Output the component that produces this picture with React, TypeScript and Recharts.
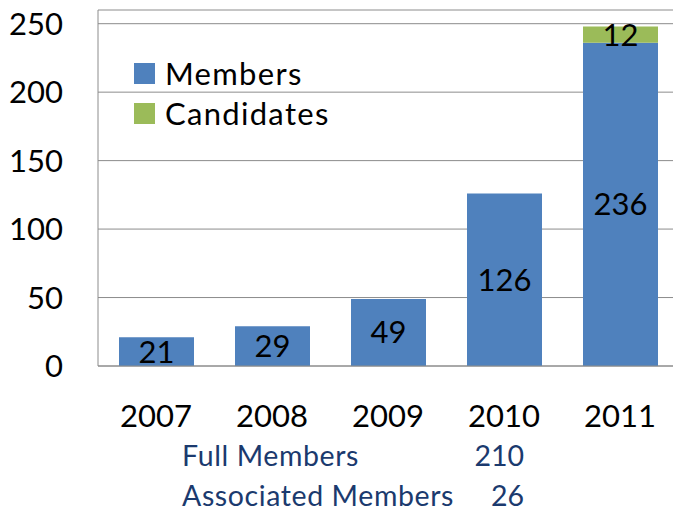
import React from "react";
import { BarChart, Bar, XAxis, YAxis, CartesianGrid, Legend, LabelList } from "recharts";

const years = ["2007", "2008", "2009", "2010", "2011"];
const members = [21, 29, 49, 126, 236];
const candidates = [0, 0, 0, 0, 12];
const yTicks = [0, 50, 100, 150, 200, 250];
const seriesNames = ["Members", "Candidates"];
const footerLabels = ["Full Members", "Associated Members"];
const footerValues = ["210", "26"];

const data = years.map((y, i) => ({ year: y, Members: members[i], Candidates: candidates[i] }));

const FONT = "Lato, 'Open Sans', sans-serif";
const BLUE = "#4F81BD";
const GREEN = "#9BBB59";
const GRID = "#8c8c8c";

const renderLegend = (props: any) => {
  const payload = props.payload || [];
  const ordered = seriesNames
    .map((n) => payload.find((p: any) => p.value === n))
    .filter(Boolean);
  return (
    <div style={{ fontFamily: FONT, fontSize: 31, letterSpacing: 1.3, color: "#000" }}>
      {ordered.map((p: any) => (
        <div key={p.value} style={{ display: "flex", alignItems: "center", height: 40 }}>
          <span style={{ display: "inline-block", width: 21, height: 21, background: p.color, marginRight: 10 }} />
          <span>{p.value}</span>
        </div>
      ))}
    </div>
  );
};

const hideZero = (v: any) => (v ? v : "");

export default function App() {
  return (
    <div style={{ position: "absolute", left: 0, top: 0, width: 673, height: 513, overflow: "hidden", background: "#fff", fontFamily: FONT }}>
      <BarChart width={690} height={513} data={data} margin={{ top: 10, right: 12, left: 0, bottom: 0 }}>
        <CartesianGrid vertical={false} stroke={GRID} />
        <XAxis
          dataKey="year"
          height={147}
          tickLine={false}
          tickSize={0}
          tickMargin={39}
          axisLine={{ stroke: GRID }}
          tick={{ fill: "#000", fontSize: 31, fontFamily: FONT }}
        />
        <YAxis
          width={98}
          domain={[0, 260]}
          ticks={yTicks}
          tickLine={false}
          tickSize={0}
          tickMargin={35}
          axisLine={{ stroke: GRID }}
          tick={{ fill: "#000", fontSize: 31, fontFamily: FONT }}
        />
        <Legend
          layout="vertical"
          align="center"
          verticalAlign="middle"
          content={renderLegend}
          wrapperStyle={{ left: 134, top: 53, width: "auto", height: "auto" }}
        />
        <Bar dataKey="Members" stackId="a" fill={BLUE} barSize={75} isAnimationActive={false}>
          <LabelList dataKey="Members" position="center" formatter={hideZero} fill="#000" fontSize={31} fontFamily={FONT} />
        </Bar>
        <Bar dataKey="Candidates" stackId="a" fill={GREEN} barSize={75} isAnimationActive={false}>
          <LabelList dataKey="Candidates" position="center" formatter={hideZero} fill="#000" fontSize={31} fontFamily={FONT} />
        </Bar>
      </BarChart>
      <svg width={673} height={513} style={{ position: "absolute", left: 0, top: 0, pointerEvents: "none" }}>
        {footerLabels.map((t, i) => (
          <text key={t} x={182} y={466 + i * 40} fontFamily={FONT} fontSize={28.5} letterSpacing={0.6} fill="#1B3A6E">
            {t}
          </text>
        ))}
        {footerValues.map((t, i) => (
          <text key={t} x={524} y={466 + i * 40} textAnchor="end" fontFamily={FONT} fontSize={28.5} fill="#1B3A6E">
            {t}
          </text>
        ))}
      </svg>
    </div>
  );
}
